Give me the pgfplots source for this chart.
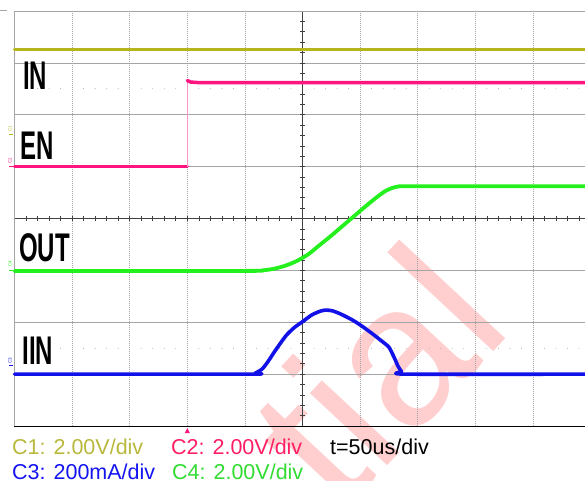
\documentclass[border=0pt]{standalone}
\usepackage{pgfplots}
\pgfplotsset{compat=1.18}
\usepackage{fontspec}
\setmainfont{Liberation Sans}

% channel colours
\definecolor{chA}{RGB}{181,181,28}
\definecolor{chB}{RGB}{255,20,128}
\definecolor{chC}{RGB}{18,18,232}
\definecolor{chD}{RGB}{36,240,30}
\definecolor{txA}{RGB}{184,184,60}
\definecolor{txB}{RGB}{255,30,100}
\definecolor{txC}{RGB}{20,20,240}
\definecolor{txD}{RGB}{50,220,50}
\definecolor{wmark}{RGB}{255,206,206}
\definecolor{gridc}{RGB}{165,165,165}

% traces, in screen divisions (vertical) against time in us
\pgfplotstableread{
t d
0 7.26
500 7.26
}\chonetable
\pgfplotstableread{
t d
0 5.00
150 5.00
}\chtwolow
\pgfplotstableread{
t d
150 5.00
150 6.66
}\chtwoedge
\pgfplotstableread{
t d
150 6.66
153 6.63
160 6.62
500 6.62
}\chtwohigh
\pgfplotstableread{
t d
0 2.99
200 2.99
215 3.00
225 3.03
235 3.09
245 3.18
255 3.31
265 3.49
275 3.67
285 3.86
295 4.05
305 4.24
315 4.42
322 4.53
328 4.59
334 4.62
345 4.62
500 4.62
}\chfourtable
\pgfplotstableread{
t d
0 1.00
203 1.00
209 1.02
215 1.10
220 1.24
225 1.41
230 1.57
236 1.75
243 1.90
250 2.01
258 2.14
265 2.21
270 2.235
276 2.22
283 2.16
292 2.06
300 1.95
310 1.79
318 1.65
325 1.52
330 1.30
333 1.15
336 1.05
340 1.00
500 1.00
}\chthreetable

\begin{document}
\begin{tikzpicture}
\useasboundingbox (0,0) rectangle (585pt,480pt);
\clip (0,0) rectangle (585pt,480pt);
\begin{scope}[x=1pt,y=1pt]
  % background watermark
  \node[rotate=47, anchor=base west, text=wmark, inner sep=0,
        font=\fontsize{200}{200}\selectfont] at (340,-36) {tial};
  % graticule: dotted verticals, solid horizontals
  \foreach \i in {1,...,9}
    \draw[gridc, line width=0.6pt, dash pattern=on 0.8pt off 1.2pt]
      ({14.5+57.6*\i},54) -- ({14.5+57.6*\i},469);
  \foreach \j in {1,...,7}
    \draw[gridc, line width=0.7pt] (14.5,{54+51.875*\j}) -- (590.5,{54+51.875*\j});
  % centre cross with fine ticks
  \draw[black!75, line width=0.8pt] (14.5,261.5) -- (590.5,261.5);
  \draw[black!75, line width=0.8pt] (302.5,54) -- (302.5,469);
  \foreach \k in {1,...,49}
    \draw[black!75, line width=0.6pt] ({14.5+11.52*\k},259) -- ({14.5+11.52*\k},264);
  \foreach \k in {1,...,39}
    \draw[black!75, line width=0.6pt] (300.3,{54+10.375*\k}) -- (304.7,{54+10.375*\k});
  % half-division reference dots
  \foreach \k in {1,...,49}{
    \pgfmathtruncatemacro{\r}{mod(\k,5)}
    \ifnum\r>0
      \fill[gray] ({14.5+11.52*\k},391.2) circle (0.45);
      \fill[gray] ({14.5+11.52*\k},131.8) circle (0.45);
    \fi}
  % frame
  \draw[gridc, line width=0.8pt] (14.5,54) -- (14.5,469) -- (590.5,469);
  \draw[gridc, line width=0.8pt] (0,469.5) -- (7,469.5);
  \draw[black, line width=1pt] (14,54) -- (590.5,54);
  % trigger position
  \fill[chB] (184.8,47) -- (189.8,47) -- (187.3,52) -- cycle;
  % ground markers
  \draw[chA, line width=1pt] (9,345) -- (13,345);
  \draw[chB, line width=1pt] (9,313.5) -- (13,313.5);
  \draw[chD, line width=1pt] (9,209.3) -- (13,209.3);
  \draw[chC, line width=1pt] (9,114.5) -- (13,114.5);
  \node[rotate=90, text=chA, inner sep=0, font=\fontsize{4.5}{4.5}\selectfont] at (10,351) {C1};
  \node[rotate=90, text=chB, inner sep=0, font=\fontsize{4.5}{4.5}\selectfont] at (10,319) {C2};
  \node[rotate=90, text=chD, inner sep=0, font=\fontsize{4.5}{4.5}\selectfont] at (10,216) {C4};
  \node[rotate=90, text=chC, inner sep=0, font=\fontsize{4.5}{4.5}\selectfont] at (10,119) {C3};
  % signal names
  \begin{scope}[every node/.style={anchor=base west, inner sep=0, xscale=0.6,
      font=\fontsize{40}{40}\selectfont\bfseries}]
    \node at (23,390.7) {IN};
    \node at (20.5,320.7) {EN};
    \node at (19,218.5) {OUT};
    \node at (22.5,116) {IIN};
  \end{scope}
  % scale settings
  \begin{scope}[every node/.style={anchor=base west, inner sep=0,
      font=\fontsize{21.5}{21.5}\selectfont}]
    \node[text=txA] at (12,26) {C1: 2.00V/div};
    \node[text=txB] at (171,26) {C2: 2.00V/div};
    \node[text=black] at (330,26) {t=50us/div};
    \node[text=txC] at (12,1) {C3: 200mA/div};
    \node[text=txD] at (172,1) {C4: 2.00V/div};
  \end{scope}
\end{scope}
\begin{axis}[
  at={(14.5pt,54pt)}, anchor=south west,
  scale only axis, width=576pt, height=415pt,
  xmin=0, xmax=500, ymin=0, ymax=8,
  hide axis, clip=false,
  every axis plot/.append style={line join=round, line cap=round},
]
  \addplot[chA, line width=3.5pt] table[x=t,y=d] {\chonetable};
  \addplot[chB, line width=3.5pt] table[x=t,y=d] {\chtwolow};
  \addplot[chB!45, line width=0.8pt, line cap=butt] table[x=t,y=d] {\chtwoedge};
  \addplot[chB, line width=3.5pt] table[x=t,y=d] {\chtwohigh};
  \addplot[chD, line width=3.8pt, smooth, tension=0.4] table[x=t,y=d] {\chfourtable};
  \addplot[chC, line width=3.6pt, smooth, tension=0.4] table[x=t,y=d] {\chthreetable};
\end{axis}
\end{tikzpicture}
\end{document}
